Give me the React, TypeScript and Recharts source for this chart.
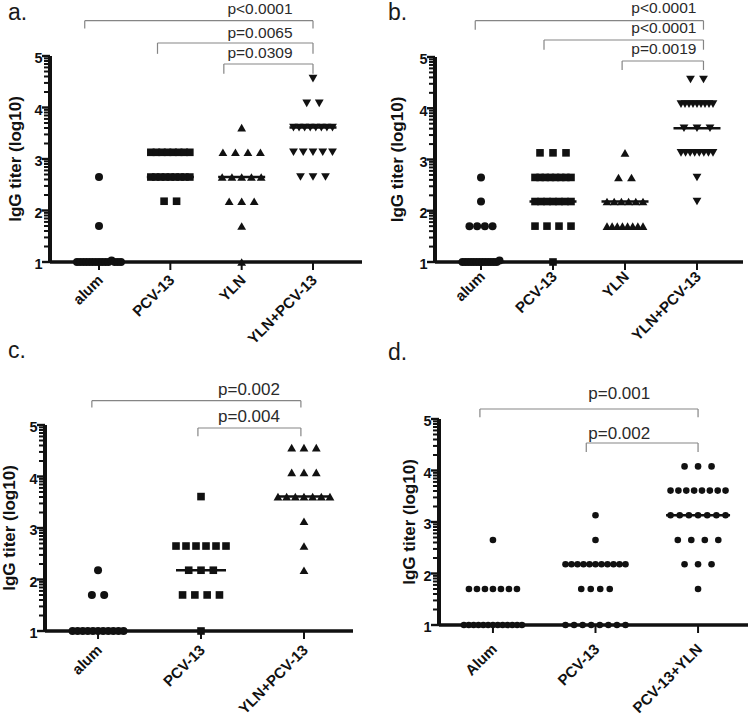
import React from 'react';
import { ScatterChart, Scatter, XAxis, YAxis, ReferenceLine, ReferenceDot } from 'recharts';

const FONT = '"Liberation Sans", Arial, Helvetica, sans-serif';
const INK = '#111';
const GREY = '#858585';

// y axis: log10 titer, minor ticks at log positions inside each decade
const majorTicks = [1, 2, 3, 4, 5];
const minorSteps = [2, 3, 4, 5, 6, 7, 8, 9];

// ---- panel a ----
const aCategories = ['alum', 'PCV-13', 'YLN', 'YLN+PCV-13'];
const aAlum = [1, 1, 1, 1, 1, 1, 1, 1, 1, 1, 1, 1.03, 1, 1, 1, 1.7, 2.65];
const aPCV = [3.13, 3.13, 3.13, 3.13, 3.13, 3.13, 3.13, 3.13, 2.65, 2.65, 2.65, 2.65, 2.65, 2.65, 2.65, 2.65, 2.65, 2.18, 2.18];
const aYLN = [3.61, 3.13, 3.13, 3.13, 3.13, 2.65, 2.65, 2.65, 2.65, 2.65, 2.18, 2.18, 2.18, 1.7, 1];
const aYLNPCV = [4.56, 4.08, 4.08, 3.61, 3.61, 3.61, 3.61, 3.61, 3.61, 3.61, 3.61, 3.13, 3.13, 3.13, 3.13, 3.13, 2.65, 2.65, 2.65];
const aPValues = ['p<0.0001', 'p=0.0065', 'p=0.0309'];

// ---- panel b ----
const bCategories = ['alum', 'PCV-13', 'YLN', 'YLN+PCV-13'];
const bAlum = [1, 1, 1, 1, 1, 1, 1, 1, 1, 1, 1, 1, 1, 1.03, 1.7, 1.7, 1.7, 1.7, 2.18, 2.65];
const bPCV = [3.13, 3.13, 3.13, 2.65, 2.65, 2.65, 2.65, 2.65, 2.65, 2.65, 2.65, 2.18, 2.18, 2.18, 2.18, 2.18, 2.18, 2.18, 1.7, 1.7, 1.7, 1.7, 1];
const bYLN = [3.13, 2.65, 2.65, 2.18, 2.18, 2.18, 2.18, 2.18, 2.18, 1.7, 1.7, 1.7, 1.7, 1.7, 1.7, 1.7, 1.7];
const bYLNPCV = [4.56, 4.56, 4.08, 4.08, 4.08, 4.08, 4.08, 4.08, 4.08, 4.08, 4.08, 3.61, 3.61, 3.61, 3.13, 3.13, 3.13, 3.13, 3.13, 3.13, 3.13, 3.13, 2.65, 2.18];
const bPValues = ['p<0.0001', 'p<0.0001', 'p=0.0019'];

// ---- panel c ----
const cCategories = ['alum', 'PCV-13', 'YLN+PCV-13'];
const cAlum = [1, 1, 1, 1, 1, 1, 1, 1, 1, 1, 1, 1.7, 1.7, 2.18];
const cPCV = [3.61, 2.65, 2.65, 2.65, 2.65, 2.65, 2.65, 2.18, 2.18, 2.18, 1.7, 1.7, 1.7, 1.7, 1];
const cYLNPCV = [4.56, 4.56, 4.56, 4.08, 4.08, 4.08, 3.61, 3.61, 3.61, 3.61, 3.61, 3.61, 3.61, 3.13, 2.65, 2.18];
const cPValues = ['p=0.002', 'p=0.004'];

// ---- panel d ----
const dCategories = ['Alum', 'PCV-13', 'PCV-13+YLN'];
const dAlum = [1, 1, 1, 1, 1, 1, 1, 1, 1, 1, 1, 1, 1, 1.7, 1.7, 1.7, 1.7, 1.7, 1.7, 1.7, 2.65];
const dPCV = [3.13, 2.65, 2.18, 2.18, 2.18, 2.18, 2.18, 2.18, 2.18, 2.18, 2.18, 2.18, 2.18, 1.7, 1.7, 1.7, 1.7, 1, 1, 1, 1, 1, 1, 1, 1];
const dPCVYLN = [4.08, 4.08, 4.08, 3.61, 3.61, 3.61, 3.61, 3.61, 3.61, 3.61, 3.61, 3.13, 3.13, 3.13, 3.13, 3.13, 3.13, 3.13, 2.65, 2.65, 2.65, 2.65, 2.18, 2.18, 2.18, 1.7];
const dPValues = ['p=0.001', 'p=0.002'];

type Kind = 'circle' | 'square' | 'up' | 'down';
type Group = { values: number[]; kind: Kind; step: number; span: number };
type Bracket = { x1: number; x2: number; y: number; leg: number; tx: number; ty: number; label: string };
type PanelCfg = {
  left: number; top: number; width: number; height: number;
  margin: { top: number; right: number; bottom: number; left: number };
  yWidth: number; xHeight: number; domain: [number, number];
  categories: string[]; groups: Group[]; brackets: Bracket[];
  medianHalf: number; yLabelX: number; tickDy: number; pFont: number; r: number;
};

const yTicks = majorTicks.flatMap((m) => (m < 5 ? [m, ...minorSteps.map((k) => m + Math.log10(k))] : [m]));

function median(values: number[]) {
  const s = [...values].sort((a, b) => a - b);
  const n = s.length;
  return n % 2 ? s[(n - 1) / 2] : (s[n / 2 - 1] + s[n / 2]) / 2;
}

// column scatter: points of the same row are laid side by side around the category
function spread(values: number[], col: number, step: number, span: number, ppu: number) {
  const rows = new Map<number, number[]>();
  values.forEach((v) => {
    const key = Math.round(v * 10);
    if (!rows.has(key)) rows.set(key, []);
    rows.get(key)!.push(v);
  });
  const pts: { x: number; y: number }[] = [];
  rows.forEach((row) => {
    const n = row.length;
    const s = n > 1 ? Math.min(step, span / (n - 1)) : 0;
    row.forEach((v, k) => pts.push({ x: col + ((k - (n - 1) / 2) * s) / ppu, y: v }));
  });
  return pts;
}

function Marker({ cx, cy, kind, r }: { cx: number; cy: number; kind: Kind; r: number }) {
  if (cx == null || cy == null) return null;
  if (kind === 'circle') return <circle cx={cx} cy={cy} r={r} fill={INK} />;
  if (kind === 'square') return <rect x={cx - r * 0.95} y={cy - r * 0.95} width={r * 1.9} height={r * 1.9} fill={INK} />;
  const w = r * 1.1;
  const h = r * 0.95;
  if (kind === 'up') return <polygon points={`${cx - w},${cy + h} ${cx + w},${cy + h} ${cx},${cy - h}`} fill={INK} />;
  return <polygon points={`${cx - w},${cy - h} ${cx + w},${cy - h} ${cx},${cy + h}`} fill={INK} />;
}

function YTick({ x, y, payload }: any) {
  const v = payload.value;
  const major = Math.abs(v - Math.round(v)) < 1e-6;
  return (
    <g>
      <line x1={x - (major ? 8 : 6)} x2={x} y1={y} y2={y} stroke={INK} strokeWidth={major ? 2.4 : 2} />
      {major && (
        <text x={x - 7.5} y={y} dy="0.5em" textAnchor="end" fontSize={14.5} fontWeight="bold" fontFamily={FONT} fill={INK}>
          {Math.round(v)}
        </text>
      )}
    </g>
  );
}

function XTick({ x, y, payload, labels, dy }: any) {
  const tx = x + 5;
  const ty = y + 9 + dy;
  return (
    <text x={tx} y={ty} transform={`rotate(-45 ${tx} ${ty})`} textAnchor="end" fontSize={15} fontWeight="bold" fontFamily={FONT} fill={INK}>
      {labels[payload.value - 1]}
    </text>
  );
}

function Panel({ p }: { p: PanelCfg }) {
  const plotW = p.width - p.margin.left - p.margin.right - p.yWidth;
  const ppu = plotW / (p.domain[1] - p.domain[0]);
  const hw = p.medianHalf / ppu;
  const xTicks = p.categories.map((_, i) => i + 1);
  return (
    <div style={{ position: 'absolute', left: p.left, top: p.top }}>
      <ScatterChart width={p.width} height={p.height} margin={p.margin}>
        <XAxis
          type="number"
          dataKey="x"
          domain={p.domain}
          ticks={xTicks}
          interval={0}
          height={p.xHeight}
          tickSize={8}
          tickMargin={2}
          stroke={INK}
          strokeWidth={3}
          axisLine={{ stroke: INK, strokeWidth: 3 }}
          tickLine={{ stroke: INK, strokeWidth: 2 }}
          tick={(t: any) => <XTick {...t} labels={p.categories} dy={p.tickDy} />}
        />
        <YAxis
          type="number"
          dataKey="y"
          domain={[1, 5]}
          ticks={yTicks}
          interval={0}
          width={p.yWidth}
          tickSize={0}
          tickMargin={0}
          stroke={INK}
          strokeWidth={4}
          axisLine={{ stroke: INK, strokeWidth: 4 }}
          tickLine={false}
          tick={(t: any) => <YTick {...t} />}
          label={{
            content: (l: any) => {
              const vb = l.viewBox || { x: 0, y: p.margin.top, height: p.height - p.margin.top - p.xHeight };
              const lx = vb.x + p.yLabelX;
              const ly = vb.y + vb.height / 2;
              return (
                <text x={lx} y={ly} transform={`rotate(-90 ${lx} ${ly})`} textAnchor="middle" dominantBaseline="central"
                  fontSize={17} fontWeight="bold" fontFamily={FONT} fill={INK}>
                  IgG titer (log10)
                </text>
              );
            },
          }}
        />
        {/* heavy axis strokes, as in the printed figure */}
        <ReferenceLine segment={[{ x: p.domain[0], y: 1 }, { x: p.domain[0], y: 5 }]} stroke={INK} strokeWidth={4} ifOverflow="visible" />
        <ReferenceLine segment={[{ x: p.domain[0], y: 1 }, { x: p.domain[1], y: 1 }]} stroke={INK} strokeWidth={3} ifOverflow="visible" />
        {p.groups.map((g, i) => (
          <Scatter
            key={`s${i}`}
            data={spread(g.values, i + 1, g.step, g.span, ppu)}
            isAnimationActive={false}
            shape={(s: any) => <Marker cx={s.cx} cy={s.cy} kind={g.kind} r={p.r} />}
          />
        ))}
        {p.groups.map((g, i) => {
          const m = median(g.values);
          return (
            <ReferenceLine key={`m${i}`} segment={[{ x: i + 1 - hw, y: m }, { x: i + 1 + hw, y: m }]}
              stroke={INK} strokeWidth={2.5} ifOverflow="visible" />
          );
        })}
        {p.brackets.flatMap((b, i) => [
          <ReferenceLine key={`bh${i}`} segment={[{ x: b.x1, y: b.y }, { x: b.x2, y: b.y }]} stroke={GREY} strokeWidth={1.2} ifOverflow="visible" />,
          <ReferenceLine key={`bl${i}`} segment={[{ x: b.x1, y: b.y }, { x: b.x1, y: b.y - b.leg }]} stroke={GREY} strokeWidth={1.2} ifOverflow="visible" />,
          <ReferenceLine key={`br${i}`} segment={[{ x: b.x2, y: b.y }, { x: b.x2, y: b.y - b.leg }]} stroke={GREY} strokeWidth={1.2} ifOverflow="visible" />,
          <ReferenceDot
            key={`bt${i}`}
            x={b.tx}
            y={b.ty}
            r={0}
            ifOverflow="visible"
            shape={(s: any) => (
              <text x={s.cx} y={s.cy} dy="0.27em" textAnchor="middle" fontSize={p.pFont} fontFamily={FONT} fill="#2a2a2a">
                {b.label}
              </text>
            )}
          />,
        ])}
      </ScatterChart>
    </div>
  );
}

const panels: PanelCfg[] = [
  {
    left: 0, top: 0, width: 375, height: 370,
    margin: { top: 56, right: 13, bottom: 0, left: 0 },
    yWidth: 50, xHeight: 108, domain: [0.313, 4.687],
    categories: aCategories,
    groups: [
      { values: aAlum, kind: 'circle', step: 12.5, span: 44 },
      { values: aPCV, kind: 'square', step: 12.5, span: 39 },
      { values: aYLN, kind: 'up', step: 12.5, span: 39 },
      { values: aYLNPCV, kind: 'down', step: 12.5, span: 39 },
    ],
    brackets: [
      { x1: 0.8, x2: 4.0, y: 5.685, leg: 0.15, tx: 3.257, ty: 5.893, label: aPValues[0] },
      { x1: 1.82, x2: 4.0, y: 5.252, leg: 0.21, tx: 3.257, ty: 5.427, label: aPValues[1] },
      { x1: 2.75, x2: 4.0, y: 4.845, leg: 0.19, tx: 3.257, ty: 5.039, label: aPValues[2] },
    ],
    medianHalf: 23.5, yLabelX: 15.5, tickDy: 0, pFont: 15.5, r: 4,
  },
  {
    left: 375, top: 0, width: 375, height: 370,
    margin: { top: 57, right: 7, bottom: 0, left: 0 },
    yWidth: 60, xHeight: 108, domain: [0.361, 4.639],
    categories: bCategories,
    groups: [
      { values: bAlum, kind: 'circle', step: 7.7, span: 37 },
      { values: bPCV, kind: 'square', step: 13, span: 36 },
      { values: bYLN, kind: 'up', step: 13, span: 36 },
      { values: bYLNPCV, kind: 'down', step: 13, span: 32 },
    ],
    brackets: [
      { x1: 0.92, x2: 4.09, y: 5.708, leg: 0.175, tx: 3.54, ty: 5.937, label: bPValues[0] },
      { x1: 1.875, x2: 4.09, y: 5.332, leg: 0.19, tx: 3.54, ty: 5.546, label: bPValues[1] },
      { x1: 2.96, x2: 4.09, y: 4.922, leg: 0.175, tx: 3.54, ty: 5.146, label: bPValues[2] },
    ],
    medianHalf: 23.5, yLabelX: 22.5, tickDy: -3.5, pFont: 15.5, r: 4,
  },
  {
    left: 0, top: 370, width: 375, height: 344,
    margin: { top: 55, right: 22, bottom: 0, left: 0 },
    yWidth: 45, xHeight: 83, domain: [0.485, 3.476],
    categories: cCategories,
    groups: [
      { values: cAlum, kind: 'circle', step: 12.3, span: 51 },
      { values: cPCV, kind: 'square', step: 12.3, span: 50 },
      { values: cYLNPCV, kind: 'up', step: 12.3, span: 52 },
    ],
    brackets: [
      { x1: 0.94, x2: 2.97, y: 5.472, leg: 0.13, tx: 2.466, ty: 5.68, label: cPValues[0] },
      { x1: 1.97, x2: 2.97, y: 4.942, leg: 0.16, tx: 2.466, ty: 5.146, label: cPValues[1] },
    ],
    medianHalf: 25, yLabelX: 9, tickDy: 1, pFont: 17, r: 4,
  },
  {
    left: 375, top: 370, width: 375, height: 344,
    margin: { top: 49, right: 2, bottom: 0, left: 0 },
    yWidth: 64, xHeight: 89, domain: [0.474, 3.487],
    categories: dCategories,
    groups: [
      { values: dAlum, kind: 'circle', step: 8, span: 58 },
      { values: dPCV, kind: 'circle', step: 9.5, span: 60 },
      { values: dPCVYLN, kind: 'circle', step: 13.5, span: 55 },
    ],
    brackets: [
      { x1: 0.873, x2: 3.0, y: 5.194, leg: 0.16, tx: 2.232, ty: 5.485, label: dPValues[0] },
      { x1: 1.91, x2: 3.0, y: 4.534, leg: 0.175, tx: 2.232, ty: 4.709, label: dPValues[1] },
    ],
    medianHalf: 32, yLabelX: 34.5, tickDy: 6, pFont: 17, r: 3.3,
  },
];

const panelLetters = [
  { text: 'a.', left: 8, top: 1 },
  { text: 'b.', left: 388, top: 1 },
  { text: 'c.', left: 8, top: 338.5 },
  { text: 'd.', left: 388, top: 340.5 },
];

export default function App() {
  return (
    <div style={{ position: 'absolute', left: 0, top: 0, width: 750, height: 714, background: '#fff', overflow: 'hidden' }}>
      {panels.map((p, i) => (
        <Panel key={i} p={p} />
      ))}
      {panelLetters.map((l) => (
        <div key={l.text} style={{ position: 'absolute', left: l.left, top: l.top, fontSize: 23, lineHeight: 1, fontFamily: FONT, color: '#1a1a1a' }}>
          {l.text}
        </div>
      ))}
    </div>
  );
}
